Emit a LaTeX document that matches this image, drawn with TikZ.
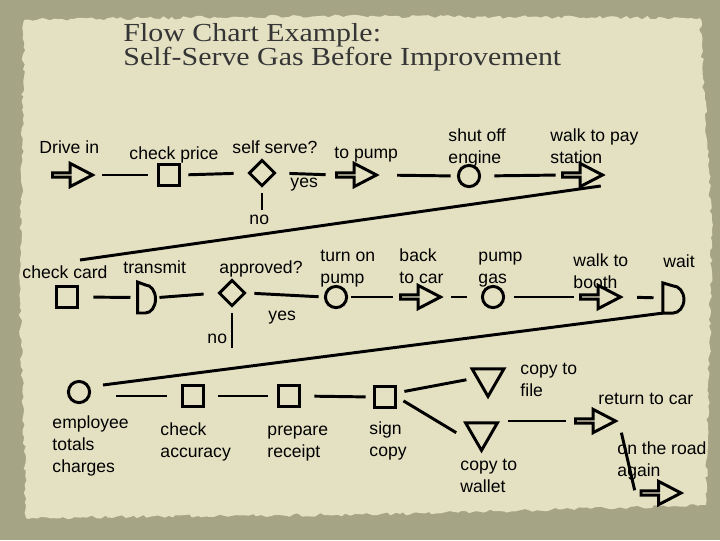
\documentclass[tikz,border=0pt]{standalone}
\usepackage{fontspec}
\setmainfont{Liberation Sans}
\newfontfamily\titlefont[FakeStretch=1.15]{Liberation Serif}
\usetikzlibrary{shapes.geometric,shapes.arrows,decorations.pathmorphing}
\definecolor{board}{HTML}{A5A485}
\definecolor{paper}{HTML}{E4E1C3}
\definecolor{ink}{HTML}{111111}

\begin{document}
\begin{tikzpicture}[x=0.025cm,y=-0.025cm,line width=2.1pt,
    inspection/.style={draw,rectangle,minimum size=0.53cm},
    operation/.style={draw,circle,minimum size=0.53cm},
    decision/.style={draw,diamond,minimum size=0.66cm},
    transport/.style={draw,single arrow,minimum height=1.0cm,minimum width=0.58cm,
      single arrow head extend=0.17cm,single arrow tip angle=55},
    delay/.style={rectangle,minimum width=0.45cm,minimum height=0.7cm},
    storage/.style={draw,regular polygon,regular polygon sides=3,
      shape border rotate=180,minimum size=0.92cm},
    lbl/.style={font=\fontsize{12.5}{15.3}\selectfont,align=left,anchor=base west}]
		\tikzstyle{every node}+=[inner sep=0pt]
		\useasboundingbox (0,0) rectangle (720,540);
		% torn paper
		\fill [board] (0,0) rectangle (720,540);
		\pgfmathsetseed{7}
		\fill [paper,decorate,decoration={random steps,segment length=3pt,amplitude=1.2pt}]
			(24,20) -- (300,16) -- (700,18) -- (712,230) -- (706,505) -- (400,514) -- (26,518) -- (20,300) -- cycle;
		% title
		\node [anchor=base west,align=left,text=ink!85,font=\titlefont\fontsize{18.5}{17}\selectfont]
			(title) at (122,65) {Flow Chart Example:\\Self-Serve Gas Before Improvement};
		% first row
		\node [transport] (drive) at (70.5,175) {};
		\node [inspection] (price) at (169,175) {};
		\node [decision] (self) at (262,173) {};
		\node [transport] (topump) at (354.5,175) {};
		\node [operation] (shutoff) at (469,176) {};
		\node [transport] (walkpay) at (580.5,175) {};
		\coordinate (no1) at (262,210);
		\coordinate (wrap1) at (80,260);
		\node [lbl] (l-drive) at (38,153) {Drive in};
		\node [lbl] (l-price) at (128,159) {check price};
		\node [lbl] (l-self) at (231,153) {self serve?};
		\node [lbl] (l-yes1) at (289,187) {yes};
		\node [lbl] (l-no1) at (248,224) {no};
		\node [lbl] (l-topump) at (333,158) {to pump};
		\node [lbl] (l-shutoff) at (447,163) {shut off\\engine};
		\node [lbl] (l-walkpay) at (549,163) {walk to pay\\station};
		\draw [shorten <=4.6pt,shorten >=6pt] (drive.east) -- (price.west);
		\draw [shorten <=5.2pt,shorten >=9.8pt] (price.east) -- (self.west);
		\draw [shorten <=9pt,shorten >=6.7pt] (self.east) -- (topump.west);
		\draw [shorten <=4pt] (self.south) -- (no1);
		\draw [shorten <=12.4pt,shorten >=4.5pt] (topump.east) -- (shutoff.west);
		\draw [shorten <=9.5pt,shorten >=3.9pt] (shutoff.east) -- (walkpay.west);
		\draw ([xshift=-3.5pt,yshift=-7.8pt]walkpay.tip) -- (wrap1);
		% second row
		\node [inspection] (card) at (67,297) {};
		\node [delay] (transmit) at (148,297.5) {};
		\draw (transmit.south west) -- ++(8,0) arc [start angle=-90,end angle=90,x radius=0.25cm,y radius=0.35cm]
			-- (transmit.north west) -- cycle;
		\node [decision] (approved) at (232,293) {};
		\node [operation] (turnon) at (336,297) {};
		\node [transport] (backcar) at (418.5,297) {};
		\node [operation] (pumpgas) at (493,297) {};
		\node [transport] (walkbooth) at (598.5,297) {};
		\node [delay,minimum width=0.53cm,minimum height=0.68cm] (wait) at (675,298) {};
		\draw (wait.south west) -- ++(10,0) arc [start angle=-90,end angle=90,x radius=0.275cm,y radius=0.34cm]
			-- (wait.north west) -- cycle;
		\coordinate (no2) at (232,348);
		\coordinate (wrap2) at (103,385);
		\node [lbl] (l-card) at (21,278) {check card};
		\node [lbl] (l-transmit) at (122,273) {transmit};
		\node [lbl] (l-approved) at (218,273) {approved?};
		\node [lbl] (l-turnon) at (319,283) {turn on\\pump};
		\node [lbl] (l-yes2) at (267,320) {yes};
		\node [lbl] (l-no2) at (206,343) {no};
		\node [lbl] (l-backcar) at (398,283) {back\\to car};
		\node [lbl] (l-pumpgas) at (477,283) {pump\\gas};
		\node [lbl] (l-walkbooth) at (572,288) {walk to\\booth};
		\node [lbl] (l-wait) at (662,267) {wait};
		\draw [shorten <=10.2pt,shorten >=5pt] (card.east) -- (transmit.west);
		\draw [shorten <=0.7pt,shorten >=9.8pt] (transmit.east) -- (approved.west);
		\draw [shorten <=5.5pt,shorten >=3.8pt] (approved.east) -- (turnon.west);
		\draw [shorten <=4pt] (approved.south) -- (no2);
		\draw [shorten <=2.4pt,shorten >=4.6pt] (turnon.east) -- (backcar.west);
		\draw [shorten <=5.3pt,shorten >=10.2pt] (backcar.east) -- (pumpgas.west);
		\draw [shorten <=6pt,shorten >=3.9pt] (pumpgas.east) -- (walkbooth.west);
		\draw [shorten <=9.6pt,shorten >=6.7pt] (walkbooth.east) -- (wait.west);
		\draw (wait.south west) -- (wrap2);
		% third row
		\node [operation] (totals) at (79,392) {};
		\node [inspection] (accuracy) at (193,396) {};
		\node [inspection] (receipt) at (289,396) {};
		\node [inspection] (sign) at (385,397) {};
		\node [storage] (file) at (488,378) {};
		\node [storage] (wallet) at (481.5,432) {};
		\node [transport] (returncar) at (593.5,421) {};
		\node [transport] (road) at (659,493) {};
		\node [lbl] (l-totals) at (51,472) {employee\\totals\\charges};
		\node [lbl] (l-accuracy) at (159,457) {check\\accuracy};
		\node [lbl] (l-receipt) at (266,457) {prepare\\receipt};
		\node [lbl] (l-sign) at (368,456) {sign\\copy};
		\node [lbl] (l-file) at (519,396) {copy to\\file};
		\node [lbl] (l-wallet) at (459,492) {copy to\\wallet};
		\node [lbl] (l-returncar) at (597,404) {return to car};
		\node [lbl] (l-road) at (616,476) {on the road\\again};
		\draw [shorten <=18pt,shorten >=10.2pt] (totals.east |- accuracy.west) -- (accuracy.west);
		\draw [shorten <=9.5pt,shorten >=6pt] (accuracy.east) -- (receipt.west);
		\draw [shorten <=9.5pt,shorten >=5.2pt] (receipt.east) -- (sign.west);
		\draw [shorten <=5.3pt,shorten >=6.7pt] ([yshift=3pt]sign.east) -- (file.west);
		\draw [shorten <=5.3pt,shorten >=9.8pt] (sign.east) -- ([xshift=-4pt]wallet.south west);
		\draw [shorten <=9.8pt,shorten >=6pt] (wallet.east |- returncar.west) -- (returncar.west);
		\draw [shorten <=8.5pt,shorten >=2pt] (returncar.tip) -- ([xshift=-3pt]road.west);
	\end{tikzpicture}
\end{document}
